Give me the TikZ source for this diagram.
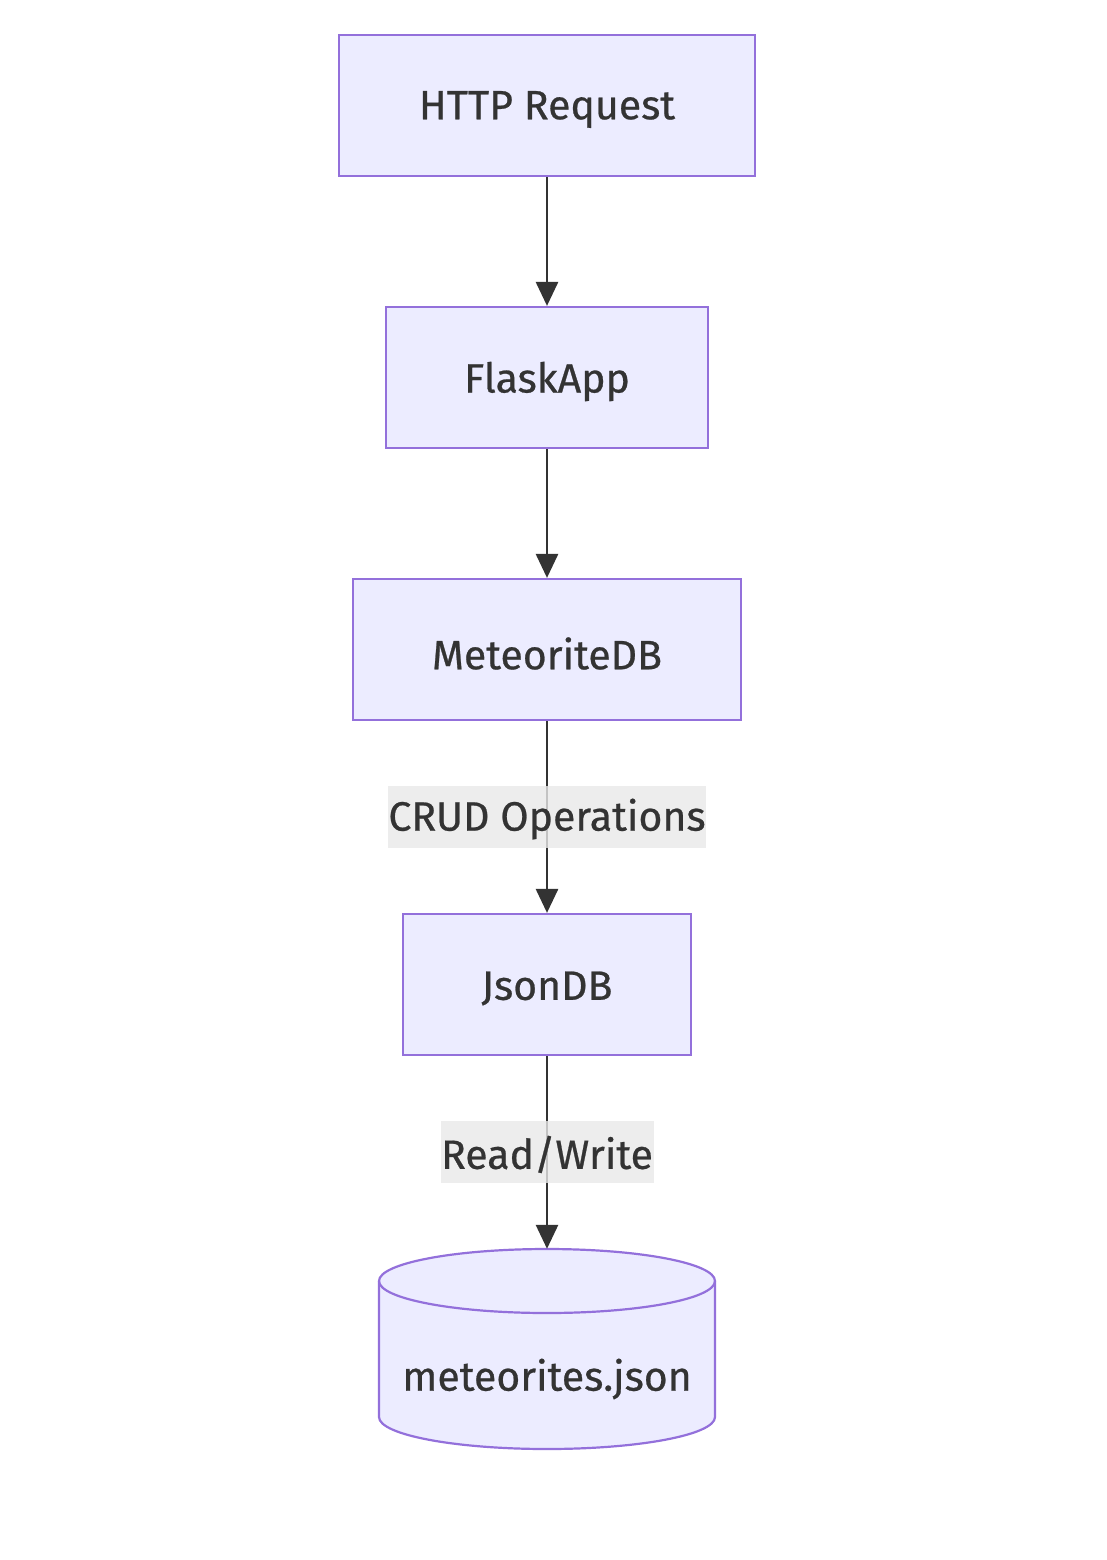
\documentclass[tikz,border=0pt]{standalone}
\usepackage{fontspec}
\setmainfont{Fira Sans}[FakeBold=0.6]
\usetikzlibrary{arrows.meta}
\definecolor{boxfill}{HTML}{ECECFF}
\definecolor{boxline}{HTML}{9370DB}
\definecolor{edgeline}{HTML}{333333}
\definecolor{labelbg}{HTML}{E8E8E8}
\newcommand{\lowr}[2]{\raisebox{-#1}[\height][\depth]{#2}}
\tikzset{
  txt/.style={text=edgeline, font=\fontsize{41}{48}\selectfont},
  box/.style={draw=boxline, fill=boxfill, line width=2.2pt, minimum height=141pt, inner sep=0pt, txt},
  edge/.style={draw=edgeline, line width=2.8pt, -{Triangle[length=24pt,width=22pt]}},
  elabel/.style={fill=labelbg, fill opacity=0.8, text opacity=1, inner sep=0pt, minimum height=62pt, txt}
}
\begin{document}
\begin{tikzpicture}[x=1pt,y=-1pt]
\useasboundingbox (0,0) rectangle (1106,1560);
\node[box, minimum width=416pt] (http) at (547,105.5) {\lowr{4pt}{HTTP Request}};
\node[box, minimum width=322pt] (flask) at (547,377.5) {\lowr{4pt}{FlaskApp}};
\node[box, minimum width=388pt] (mdb) at (547,649.5) {\lowr{4pt}{MeteoriteDB}};
\node[box, minimum width=288pt] (jdb) at (547,984.5) {\lowr{4pt}{JsonDB}};
% cylinder
\node[draw=none, minimum width=336pt, minimum height=200pt, inner sep=0pt] (file) at (547,1349) {};
\filldraw[draw=boxline, fill=boxfill, line width=2.2pt]
  (379,1281) -- (379,1417) arc[start angle=180, end angle=0, x radius=168, y radius=32] -- (715,1281)
  arc[start angle=0, end angle=-180, x radius=168, y radius=32] -- cycle;
\draw[draw=boxline, line width=2.2pt] (379,1281) arc[start angle=180, end angle=0, x radius=168, y radius=32];
\node[txt] (filetext) at (547,1379) {meteorites.json};
\draw[edge] (http) -- (flask);
\draw[edge] (flask) -- (mdb);
\draw[edge] (mdb) -- node[elabel, minimum width=318pt] (l1) {\lowr{2pt}{CRUD Operations}} (jdb);
\draw[edge] (jdb) -- node[elabel, minimum width=213pt] (l2) {\lowr{2pt}{Read/Write}} (file.north);
\end{tikzpicture}
\end{document}
